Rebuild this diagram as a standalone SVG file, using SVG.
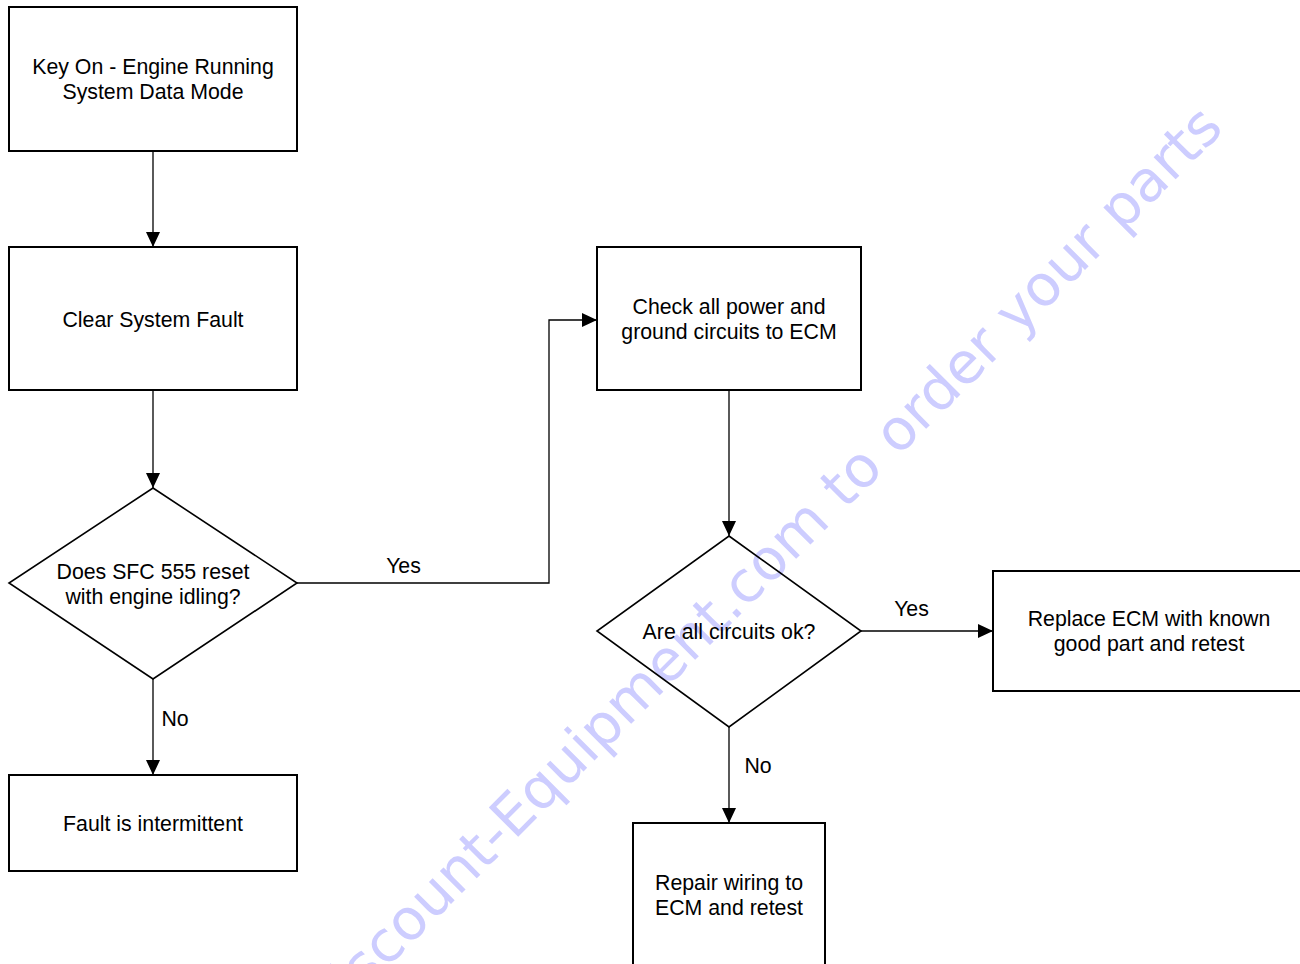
<svg xmlns="http://www.w3.org/2000/svg" width="1300" height="964" viewBox="0 0 1300 964">
<defs>
<style>
.box{fill:none;stroke:#000;stroke-width:2}
.dia{fill:none;stroke:#000;stroke-width:1.6}
.conn{fill:none;stroke:#000;stroke-width:1.3}
.t{font-family:"Liberation Sans",Arial,sans-serif;font-size:21.3px;fill:#000;text-anchor:middle}
.wm{font-family:"DejaVu Sans",Verdana,sans-serif;font-size:57px;fill:#cdcdff;text-anchor:middle}
</style>
<marker id="ah" markerUnits="userSpaceOnUse" markerWidth="16" markerHeight="14" refX="15" refY="7" orient="auto">
<path d="M0,0 L15,7 L0,14 Z" fill="#000"/>
</marker>
</defs>
<rect width="1300" height="964" fill="#fff"/>
<text class="wm" x="774" y="581" transform="rotate(-45 774 581)">Discount-Equipment.com to order your parts</text>
<g id="n1"><rect class="box" x="9" y="7" width="288" height="144"/><text class="t" x="153" y="73.5">Key On - Engine Running</text><text class="t" x="153" y="98.5">System Data Mode</text></g>
<g id="n2"><rect class="box" x="9" y="247" width="288" height="143"/><text class="t" x="153" y="326.5">Clear System Fault</text></g>
<g id="n3"><polygon class="dia" points="153,488 297,583 153,679 9,583"/><text class="t" x="153" y="578.5">Does SFC 555 reset</text><text class="t" x="153" y="603.5">with engine idling?</text></g>
<g id="n4"><rect class="box" x="9" y="775" width="288" height="96"/><text class="t" x="153" y="830.5">Fault is intermittent</text></g>
<g id="n5"><rect class="box" x="597" y="247" width="264" height="143"/><text class="t" x="729" y="313.5">Check all power and</text><text class="t" x="729" y="338.5">ground circuits to ECM</text></g>
<g id="n6"><polygon class="dia" points="729,536 861,631 729,727 597,631"/><text class="t" x="729" y="638.5">Are all circuits ok?</text></g>
<g id="n7"><rect class="box" x="993" y="571" width="312" height="120"/><text class="t" x="1149" y="625.5">Replace ECM with known</text><text class="t" x="1149" y="651">good part and retest</text></g>
<g id="n8"><rect class="box" x="633" y="823" width="192" height="144"/><text class="t" x="729" y="889.5">Repair wiring to</text><text class="t" x="729" y="914.5">ECM and retest</text></g>
<g id="connectors">
<path class="conn" d="M153,151 V247" marker-end="url(#ah)"/>
<path class="conn" d="M153,390 V488" marker-end="url(#ah)"/>
<path class="conn" d="M153,679 V775" marker-end="url(#ah)"/>
<path class="conn" d="M297,583 H549 V320 H597" marker-end="url(#ah)"/>
<path class="conn" d="M729,390 V536" marker-end="url(#ah)"/>
<path class="conn" d="M861,631 H993" marker-end="url(#ah)"/>
<path class="conn" d="M729,727 V823" marker-end="url(#ah)"/>
<text class="t" x="403.5" y="573">Yes</text>
<text class="t" x="175" y="726">No</text>
<text class="t" x="911.5" y="616">Yes</text>
<text class="t" x="758" y="773">No</text>
</g>
</svg>
